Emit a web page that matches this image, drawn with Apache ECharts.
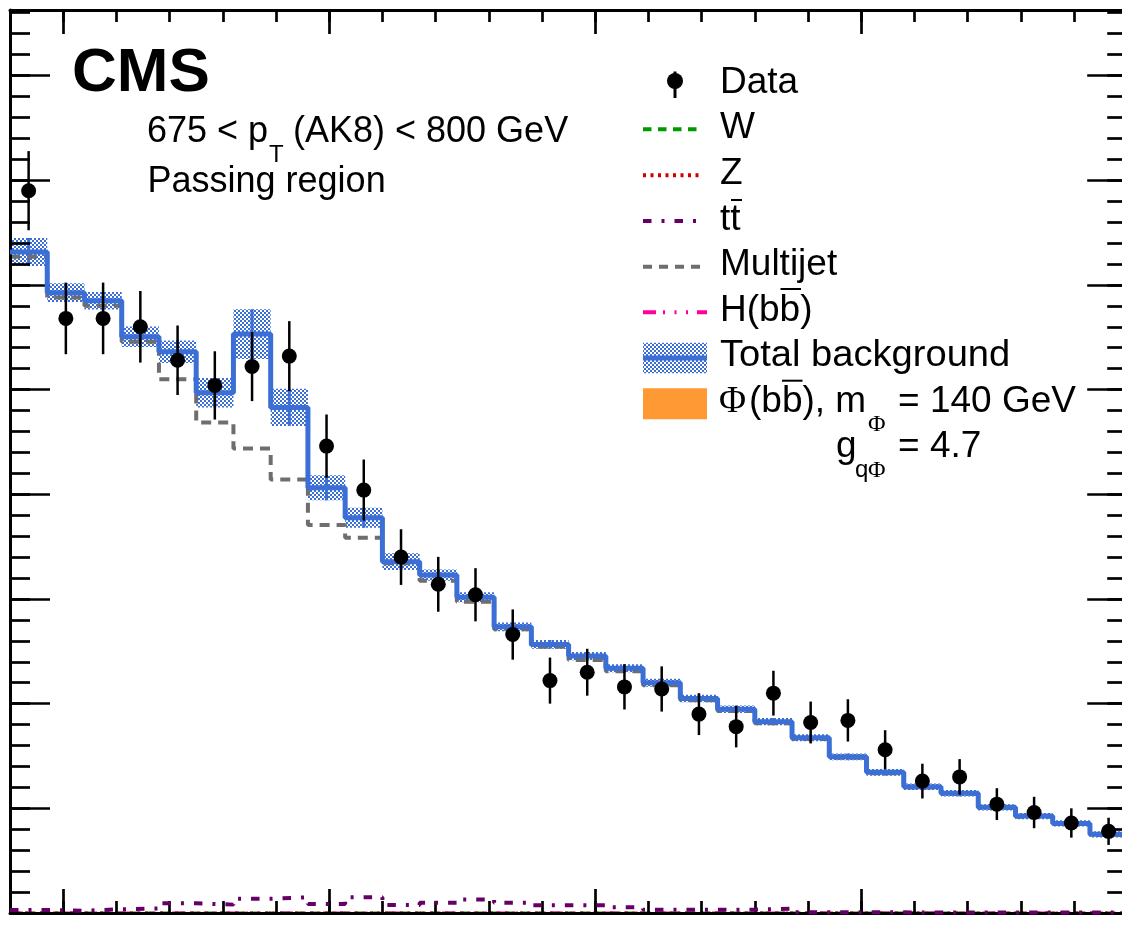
<!DOCTYPE html>
<html>
<head>
<meta charset="utf-8">
<script src="https://cdn.jsdelivr.net/npm/echarts@6.0.0/dist/echarts.min.js"></script>
<style>
html,body{margin:0;padding:0;background:#ffffff;}
#main{width:1122px;height:929px;}
</style>
</head>
<body>
<div id="main"></div>
<script>
// ---------------- data ----------------
const binEdges = [40,47,54,61,68,75,82,89,96,103,110,117,124,131,138,145,152,159,166,173,180,187,194,201,208,215,222,229,236,243,250];
const dataCounts = [345,284,284,280,264,252,261,266,223,202,170,157,152,133,111,115,108,107,95,89,105,91,92,78,63,65,52,48,43,39];
const dataErrors = [18.9,17.1,17.1,17.1,16.6,16.3,16.5,16.7,15.1,14.6,13.3,13.1,12.7,12.0,11.0,11.2,10.8,10.8,10.0,9.9,10.7,10.0,10.1,9.3,8.3,8.5,7.6,7.5,7.0,6.5];
const totalBkg = [315.7,296.3,292.4,275.2,268.1,248.5,276.5,241.5,203.1,188.8,167.8,161.4,150.8,136.7,128.3,122.7,116.9,110.0,102.5,97.3,91.4,83.7,74.6,67.2,60.3,57.2,50.5,46.3,42.8,37.6];
const totalUnc = [6.7,4.5,4.2,4.9,5.4,7.0,11.9,8.9,6.0,4.8,4.0,2.7,2.4,2.1,2.1,2.0,1.9,1.9,1.8,1.8,1.7,1.7,1.6,1.6,1.6,1.5,1.5,1.5,1.5,1.5];
const multijet = [313.5,294.0,290.0,272.9,254.9,234.3,221.8,207.1,185.3,179.2,167.0,158.7,148.7,135.5,127.2,120.9,115.5,108.8,101.6,96.5,90.6,83.1,74.1,66.8,60.0,56.9,50.2,46.0,42.5,37.3];
const ttbar = [1.4,1.1,1.8,2.2,4.6,4.0,6.8,7.5,4.3,7.5,3.8,4.9,6.5,4.9,3.7,3.7,2.7,1.6,1.6,1.6,2.1,0.3,0.3,0.3,0.2,0.2,0.2,0.2,0.2,0.2];
const wJets = [0,0,0,0,0,0,0,0,0,0,0,0,0,0,0,0,0,0,0,0,0,0,0,0,0,0,0,0,0,0];
const zJets = [0,0,0,0,0,0,0,0,0,0,0,0,0,0,0,0,0,0,0,0,0,0,0,0,0,0,0,0,0,0];
const hbb = [0,0,0,0,0,0,0,0,0,0,0,0,0,0,0,0,0,0,0,0,0,0,0,0,0,0,0,0,0,0];
const signalPhi = [0,0,0,0,0,0,0,0,0,0,0,0,0,0,0,0,0,0,0,0,0,0,0,0,0,0,0,0,0,0];
const xMajorTicks = [50,100,150,200,250];
const legendLabels = ['Data','W','Z','tt','Multijet','H(bb)','Total background'];

// ---------------- helpers ----------------
const Y_MAX = 431.3;
const BLUE = '#3b6fd6';
function stepData(vals){
  const out = [];
  for (let i = 0; i < vals.length; i++) out.push([binEdges[i], vals[i]]);
  out.push([binEdges[vals.length], vals[vals.length-1]]);
  return out;
}
const centers = dataCounts.map((_, i) => (binEdges[i] + binEdges[i+1]) / 2);

const pat = document.createElement('canvas');
pat.width = 4; pat.height = 4;
const pc = pat.getContext('2d');
pc.fillStyle = BLUE;
pc.fillRect(0,0,2,2); pc.fillRect(2,2,2,2);
const hatch = {image: pat, repeat: 'repeat'};

const FONT = "'Liberation Sans', Arial, Helvetica, sans-serif";
const SERIF = "'Liberation Serif', 'Times New Roman', serif";
function txt(x, y, s, size, extra, sx){
  const el = {type:'text', x:x, y:y, z:100,
    style: Object.assign({text:s, fontSize:size, fontFamily:FONT, fill:'#000', align:'left', verticalAlign:'middle'}, extra || {})};
  if (sx) el.scaleX = sx;
  return el;
}
function hline(x1, x2, y, color, width, dash){
  return {type:'line', z:100, shape:{x1:x1, y1:y, x2:x2, y2:y},
    style:{stroke:color, lineWidth:width, lineDash:dash || null}};
}

const axBase = {type:'value', splitLine:{show:false}, axisLabel:{show:false}, z:3};
const tickStyle = {color:'#000', width:2.7};
const frameLine = {show:true, onZero:false, lineStyle:{color:'#000', width:3}};

const rows = [82.5,128.1,173.7,219.3,264.9,310.5,356.1,401.7,447.3];

const option = {
  animation: false,
  backgroundColor: '#ffffff',
  grid: {left:10, top:10, width:1117.2, height:903, containLabel:false, outerBoundsMode:'none'},
  xAxis: [
    Object.assign({}, axBase, {position:'bottom', min:40, max:250, interval:10, axisLine:frameLine,
      axisTick:{show:true, inside:true, length:12, lineStyle:tickStyle}}),
    Object.assign({}, axBase, {position:'top', min:40, max:250, interval:10, axisLine:frameLine,
      axisTick:{show:true, inside:true, length:12, lineStyle:tickStyle}}),
    Object.assign({}, axBase, {position:'bottom', min:40, max:250, axisLine:{show:false, onZero:false},
      axisTick:{show:true, inside:true, length:24, customValues:xMajorTicks, lineStyle:tickStyle}}),
    Object.assign({}, axBase, {position:'top', min:40, max:250, axisLine:{show:false, onZero:false},
      axisTick:{show:true, inside:true, length:24, customValues:xMajorTicks, lineStyle:tickStyle}})
  ],
  yAxis: [
    Object.assign({}, axBase, {position:'left', min:0, max:Y_MAX, interval:10, axisLine:frameLine,
      axisTick:{show:true, inside:true, length:20, lineStyle:tickStyle}}),
    Object.assign({}, axBase, {position:'right', min:0, max:Y_MAX, interval:10, axisLine:frameLine,
      axisTick:{show:true, inside:true, length:20, lineStyle:tickStyle}}),
    Object.assign({}, axBase, {position:'left', min:0, max:Y_MAX, interval:50, axisLine:{show:false, onZero:false},
      axisTick:{show:true, inside:true, length:40, lineStyle:tickStyle}}),
    Object.assign({}, axBase, {position:'right', min:0, max:Y_MAX, interval:50, axisLine:{show:false, onZero:false},
      axisTick:{show:true, inside:true, length:40, lineStyle:tickStyle}})
  ],
  series: [
    {name:'Phi(bb)', type:'line', step:'end', data:stepData(signalPhi), symbol:'none', z:1,
      lineStyle:{width:0}, areaStyle:{color:'#ff9933', opacity:1}},
    {name:'W', type:'line', step:'end', data:stepData(wJets), symbol:'none', z:1,
      lineStyle:{color:'#009900', width:3, type:[8.5,6.5]}},
    {name:'Z', type:'line', step:'end', data:stepData(zJets), symbol:'none', z:1,
      lineStyle:{color:'#cc0000', width:3, type:[3,4.5]}},
    {name:'H(bb)', type:'line', step:'end', data:stepData(hbb), symbol:'none', z:1,
      lineStyle:{color:'#ff0099', width:3, type:[13,7,2,9.5,2,9.5,2,9]}},
    {name:'Multijet', type:'line', step:'end', data:stepData(multijet), symbol:'none', z:2,
      lineStyle:{color:'#6e6e6e', width:4, type:[10,7]}},
    {name:'Total background unc', type:'custom', z:2,
      data: totalBkg.map((v, i) => [binEdges[i], binEdges[i+1], v, totalUnc[i]]),
      encode:{x:[0,1], y:2},
      renderItem: function(params, api){
        const x0 = api.value(0), x1 = api.value(1), v = api.value(2), u = api.value(3);
        const p0 = api.coord([x0, v + u]);
        const p1 = api.coord([x1, v - u]);
        const xc = api.coord([(x0 + x1) / 2, v])[0];
        return {type:'group', children:[
          {type:'rect', shape:{x:p0[0], y:p0[1], width:p1[0]-p0[0], height:p1[1]-p0[1]}, style:{fill:hatch}},
          {type:'line', shape:{x1:xc, y1:p0[1], x2:xc, y2:p1[1]}, style:{stroke:BLUE, lineWidth:3}}
        ]};
      }},
    {name:'Total background', type:'line', step:'end', data:stepData(totalBkg), symbol:'none', z:4,
      lineStyle:{color:BLUE, width:5}},
    {name:'tt', type:'line', step:'end', data:stepData(ttbar), symbol:'none', z:5,
      lineStyle:{color:'#660066', width:4, type:[8.5,10,3,10]}},
    {name:'Data errors', type:'custom', z:6,
      data: dataCounts.map((v, i) => [centers[i], v, dataErrors[i]]),
      encode:{x:0, y:1},
      renderItem: function(params, api){
        const x = api.value(0), v = api.value(1), e = api.value(2);
        const a = api.coord([x, v + e]), b = api.coord([x, v - e]);
        return {type:'line', shape:{x1:a[0], y1:a[1], x2:b[0], y2:b[1]}, style:{stroke:'#000', lineWidth:2.5}};
      }},
    {name:'Data', type:'scatter', z:7, symbol:'circle', symbolSize:15,
      data: dataCounts.map((v, i) => [centers[i], v]),
      itemStyle:{color:'#000', opacity:1}}
  ],
  graphic: [
    txt(72, 73.5, 'CMS', 62, {fontWeight:'bold'}),
    txt(147, 132.4, '675 < p', 36),
    txt(269, 155.6, 'T', 24),
    txt(293, 132.4, '(AK8) < 800 GeV', 36),
    txt(147.5, 182.4, 'Passing region', 36),

    // legend
    {type:'circle', z:100, shape:{cx:675, cy:81, r:8}, style:{fill:'#000'}},
    {type:'line', z:100, shape:{x1:675, y1:71.5, x2:675, y2:98}, style:{stroke:'#000', lineWidth:3}},
    hline(643, 700, 129.3, '#009900', 4, [8.5,6.5]),
    hline(643, 703, 175.3, '#cc0000', 4, [3,4.5]),
    hline(643, 700, 221, '#660066', 4, [8.5,10,3,10]),
    hline(643, 700, 266.7, '#6e6e6e', 4, [9,7]),
    hline(643, 707, 312.3, '#ff0099', 4, [13,7,2,9.5,2,9.5,2,9]),
    {type:'rect', z:100, shape:{x:643, y:342.7, width:64, height:30.6}, style:{fill:hatch}},
    hline(643, 707, 358, BLUE, 5),
    {type:'rect', z:100, shape:{x:643, y:388.3, width:64, height:31}, style:{fill:'#ff9933'}},

    txt(720, rows[0], legendLabels[0], 37),
    txt(720, rows[1], legendLabels[1], 37),
    txt(720, rows[2], legendLabels[2], 37),
    txt(720, rows[3], legendLabels[3], 37),
    hline(731, 742, 200, '#000', 2),
    txt(720, rows[4], legendLabels[4], 37),
    txt(720, rows[5], legendLabels[5], 37),
    hline(780.5, 801, 289, '#000', 2),
    txt(720, rows[6], legendLabels[6], 37, null, 1.03),
    txt(719, rows[7] + 1, 'Φ', 37, {fontFamily:SERIF}),
    txt(749, rows[7], '(bb), m', 37),
    hline(782, 802.5, 380.7, '#000', 2),
    txt(868, 424.5, 'Φ', 24, {fontFamily:SERIF}),
    txt(898, rows[7], '= 140 GeV', 37),
    txt(836, 446.8, 'g', 37),
    txt(855, 470.5, 'q', 24),
    txt(868, 471, 'Φ', 24, {fontFamily:SERIF}),
    txt(898, 446.8, '= 4.7', 37)
  ]
};

const chart = echarts.init(document.getElementById('main'), null, {renderer:'canvas', width:1122, height:929});
chart.setOption(option);
</script>
</body>
</html>
